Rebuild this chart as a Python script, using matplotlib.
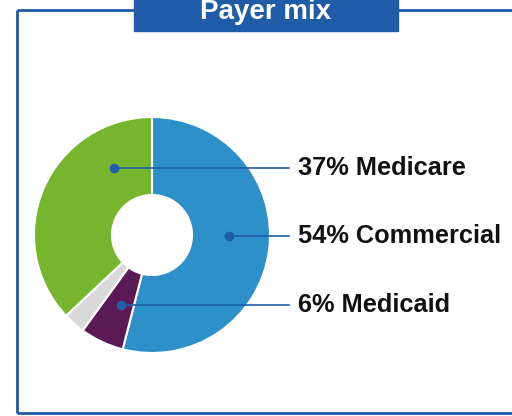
import numpy as np
import matplotlib.pyplot as plt
from matplotlib.patches import Rectangle

plt.rcParams['font.family'] = ['Liberation Sans', 'DejaVu Sans']

# payer shares, drawn clockwise from 12 o'clock
payers = ["Commercial", "Medicaid", "Other", "Medicare"]
shares = [54, 6, 3, 37]
colors = ["#2E90C8", "#5B1A55", "#D9D9D9", "#77B52E"]

# which slices get a callout, and the angle (deg) of the callout dot
callouts = ["Medicare", "Commercial", "Medicaid"]
callout_angles = [120, -1, -114]

title = "Payer mix"
frame_blue = "#1F5BA6"
dot_blue = "#1F5FA8"

W, H = 512, 416
fig = plt.figure(figsize=(W / 100, H / 100), dpi=100)
ax = fig.add_axes([0, 0, 1, 1])

# outer frame (left, top, bottom; runs off the right edge)
frame_kw = dict(color=frame_blue, lw=2, solid_capstyle="butt")
ax.plot([17, 17], [H - 10, H - 413], **frame_kw)
ax.plot([17, 140], [H - 10, H - 10], **frame_kw)
ax.plot([390, W], [H - 10, H - 10], **frame_kw)
ax.plot([17, W], [H - 413, H - 413], **frame_kw)

# title tab
ax.add_patch(Rectangle((134, H - 31), 264, 40, color=frame_blue, zorder=3))
ax.text(266, H - 19, title, color="white", fontsize=20, fontweight="bold",
        ha="center", va="baseline", zorder=4)

# donut
cx, cy, r_out, r_in = 152, H - 235, 118, 40
ax.pie(shares, colors=colors, startangle=90, counterclock=False,
       center=(cx, cy), radius=r_out, frame=True,
       wedgeprops=dict(width=r_out - r_in, edgecolor="white", linewidth=1.5))
ax.set_xlim(0, W)
ax.set_ylim(0, H)
ax.set_aspect("equal")
ax.axis("off")

# callouts with leader lines
r_dot = 77
for name, ang in zip(callouts, callout_angles):
    share = shares[payers.index(name)]
    dx = cx + r_dot * np.cos(np.radians(ang))
    dy = cy + r_dot * np.sin(np.radians(ang))
    ax.plot([dx, 289], [dy, dy], color=dot_blue, lw=1.2, zorder=5)
    ax.plot(dx, dy, "o", color=dot_blue, ms=6, zorder=6)
    ax.text(298, dy, f"{share}% {name}", fontsize=18.3, fontweight="bold",
            color="#111111", ha="left", va="center")

fig.savefig("out.png", dpi=100)
